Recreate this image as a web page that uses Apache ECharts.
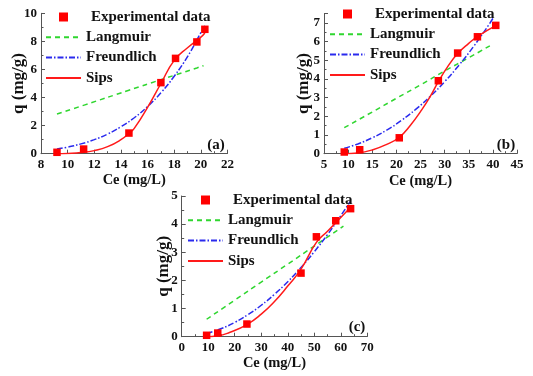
<!DOCTYPE html>
<html><head><meta charset="utf-8">
<script src="https://cdn.jsdelivr.net/npm/echarts@6/dist/echarts.min.js"></script>
<style>html,body{margin:0;padding:0;background:#fff}#c{width:533px;height:376px}</style>
</head><body><div id="c"></div>
<script>
// ---- Data: panel (a)
const aExpX = [9.2, 11.2, 14.6, 17.0, 18.1, 19.7, 20.3];
const aExpY = [0.1, 0.33, 1.47, 5.06, 6.79, 7.96, 8.86];
const aLangX = [9.2, 11.3, 14.6, 17.0, 18.1, 19.7, 20.2];
const aLangY = [2.83, 3.48, 4.52, 5.27, 5.61, 6.11, 6.27];
const aFreX = [9.2, 10, 11, 12, 13, 14, 15, 16, 17, 18, 19, 20, 20.3];
const aFreY = [0.33, 0.47, 0.70, 1.0, 1.40, 1.92, 2.56, 3.36, 4.34, 5.52, 6.92, 8.62, 9.1];
const aSipsX = [9.2, 10, 11, 12, 13, 14, 14.6, 15, 16, 17, 18, 19, 20, 20.3];
const aSipsY = [0, 0.02, 0.08, 0.22, 0.5, 1.0, 1.45, 1.8, 3.3, 5.0, 6.65, 7.55, 8.3, 8.6];
// ---- Data: panel (b)
const bExpX = [9.2, 12.4, 20.6, 28.7, 32.7, 36.8, 40.6];
const bExpY = [0.09, 0.21, 0.85, 3.9, 5.38, 6.25, 6.86];
const bLangX = [9.2, 15, 20, 25, 30, 35, 39.8];
const bLangY = [1.39, 2.23, 2.96, 3.68, 4.42, 5.13, 5.83];
const bFreX = [9.2, 12, 15, 18, 21, 24, 27, 30, 33, 36, 39, 40];
const bFreY = [0.29, 0.52, 0.85, 1.26, 1.77, 2.37, 3.06, 3.85, 4.74, 5.73, 6.83, 7.23];
const bSipsX = [9.2, 12, 15, 18, 20.6, 23, 25, 27, 28.7, 30.5, 32.7, 35, 37, 40.6];
const bSipsY = [0, 0.04, 0.2, 0.5, 0.88, 1.55, 2.25, 3.05, 3.85, 4.6, 5.35, 5.9, 6.3, 6.85];
// ---- Data: panel (c)
const cExpX = [9.4, 13.6, 24.6, 45.0, 50.8, 58.1, 63.7];
const cExpY = [0.05, 0.13, 0.45, 2.26, 3.55, 4.12, 4.55];
const cLangX = [9.4, 20, 30, 40, 50, 61];
const cLangY = [0.62, 1.30, 1.94, 2.58, 3.22, 3.93];
const cFreX = [9.4, 10, 15, 20, 25, 30, 35, 40, 45, 50, 55, 60, 63.5];
const cFreY = [0.117, 0.132, 0.29, 0.508, 0.783, 1.117, 1.508, 1.954, 2.46, 3.02, 3.63, 4.30, 4.8];
const cSipsX = [9.4, 13.6, 18, 24.6, 30, 35, 40, 45, 50.8, 55, 58.1, 63.7];
const cSipsY = [0, 0.03, 0.15, 0.43, 0.8, 1.25, 1.8, 2.4, 3.35, 3.75, 4.05, 4.6];

const seriesNames = ['Experimental data', 'Langmuir', 'Freundlich', 'Sips'];
const panelLabels = ['(a)', '(b)', '(c)'];
const xName = 'Ce (mg/L)';
const yName = 'q (mg/g)';

const FONT = '"Liberation Serif", "Times New Roman", serif';
const zip = (xs, ys) => xs.map((x, i) => [x, ys[i]]);

const panels = [
  { exp: zip(aExpX, aExpY), lang: zip(aLangX, aLangY), fre: zip(aFreX, aFreY), sips: zip(aSipsX, aSipsY) },
  { exp: zip(bExpX, bExpY), lang: zip(bLangX, bLangY), fre: zip(bFreX, bFreY), sips: zip(bSipsX, bSipsY) },
  { exp: zip(cExpX, cExpY), lang: zip(cLangX, cLangY), fre: zip(cFreX, cFreY), sips: zip(cSipsX, cSipsY) }
];

const grids = [
  { left: 41, top: 13.3, width: 186.5, height: 140.4 },
  { left: 324, top: 13.4, width: 193, height: 140.3 },
  { left: 181.7, top: 196, width: 185.6, height: 140.7 }
];
const xRanges = [ {min: 8, max: 22, interval: 2}, {min: 5, max: 45, interval: 5}, {min: 0, max: 70, interval: 10} ];
const yRanges = [ {min: 0, max: 10, interval: 2}, {min: 0, max: 7.5, interval: 1}, {min: 0, max: 5, interval: 1} ];
const xNameGap = [19.5, 20.5, 19.5];
const yNameGap = [13.5, 11.5, 10];

const axisLine = { lineStyle: { color: '#555', width: 1 } };
const tickLabel = { color: '#111', fontFamily: FONT, fontWeight: 'bold', fontSize: 13, margin: 4 };
const xNameStyle = { color: '#111', fontFamily: FONT, fontWeight: 'bold', fontSize: 14.5 };
const yNameStyle = { color: '#111', fontFamily: FONT, fontWeight: 'bold', fontSize: 17 };

const xAxis = xRanges.map((r, i) => ({
  type: 'value', gridIndex: i, min: r.min, max: r.max, interval: r.interval,
  name: xName, nameLocation: 'middle', nameGap: xNameGap[i], nameTextStyle: xNameStyle, nameMoveOverlap: false,
  axisLine: Object.assign({ onZero: false }, axisLine),
  axisTick: { show: true, inside: true, length: 4, lineStyle: { color: '#555' } },
  minorTick: { show: true, splitNumber: 2, length: 2.5, lineStyle: { color: '#555' } },
  splitLine: { show: false },
  axisLabel: tickLabel
}));
const yAxis = yRanges.map((r, i) => ({
  type: 'value', gridIndex: i, min: r.min, max: r.max, interval: r.interval,
  name: yName, nameLocation: 'middle', nameGap: yNameGap[i], nameTextStyle: yNameStyle, nameMoveOverlap: false,
  axisLine: Object.assign({ show: true, onZero: false }, axisLine),
  axisTick: { show: true, inside: true, length: 4, lineStyle: { color: '#555' } },
  minorTick: { show: true, splitNumber: 2, length: 2.5, lineStyle: { color: '#555' } },
  splitLine: { show: false },
  axisLabel: Object.assign({ showMaxLabel: i !== 1 }, tickLabel)
}));

const series = [];
panels.forEach((p, i) => {
  series.push({ name: seriesNames[1], type: 'line', xAxisIndex: i, yAxisIndex: i, data: p.lang, symbol: 'none', smooth: true,
    lineStyle: { color: '#2fd62f', width: 1.5, type: [5, 4] }, itemStyle: { color: '#2fd62f' }, z: 2 });
  series.push({ name: seriesNames[2], type: 'line', xAxisIndex: i, yAxisIndex: i, data: p.fre, symbol: 'none', smooth: true,
    lineStyle: { color: '#2a2aee', width: 1.5, type: [6, 2, 1.5, 2] }, itemStyle: { color: '#2a2aee' }, z: 3 });
  series.push({ name: seriesNames[3], type: 'line', xAxisIndex: i, yAxisIndex: i, data: p.sips, symbol: 'none', smooth: true,
    lineStyle: { color: '#ff1a1a', width: 1.5 }, itemStyle: { color: '#ff1a1a' }, z: 4 });
  series.push({ name: seriesNames[0], type: 'scatter', xAxisIndex: i, yAxisIndex: i, data: p.exp, symbol: 'rect', symbolSize: 7.5,
    itemStyle: { color: '#ff0000', opacity: 1 }, z: 5 });
});

const legendData = [
  { name: seriesNames[0], icon: 'path://M0,0h10v10h-10z', symbolKeepAspect: true, itemStyle: { opacity: 1, color: '#ff0000' } },
  { name: seriesNames[1], itemStyle: { opacity: 0 } },
  { name: seriesNames[2], itemStyle: { opacity: 0 } },
  { name: seriesNames[3], itemStyle: { opacity: 0 } }
];
const legendPos = [ {left: 40, top: 4.5}, {left: 324, top: 1.5}, {left: 182, top: 187.5} ];
const legend = legendPos.map(pos => ({
  left: pos.left, top: pos.top, orient: 'vertical', itemWidth: 35, itemHeight: 9, itemGap: 5.3,
  selectedMode: false, symbolKeepAspect: true, data: legendData,
  textStyle: { color: '#111', fontFamily: FONT, fontWeight: 'bold', fontSize: 15,
    rich: { e: { padding: [0, 0, 0, 5], color: '#111', fontFamily: FONT, fontWeight: 'bold', fontSize: 15 } } },
  formatter: n => n === seriesNames[0] ? '{e|' + n + '}' : n
}));

const labelPos = [ {x: 216, y: 145}, {x: 506, y: 145}, {x: 357, y: 327} ];
const graphic = labelPos.map((pos, i) => ({
  type: 'text', x: pos.x, y: pos.y,
  style: { text: panelLabels[i], fill: '#111', font: 'bold 15px ' + FONT, textAlign: 'center', textVerticalAlign: 'middle' }
}));

const chart = echarts.init(document.getElementById('c'), null, { renderer: 'canvas' });
chart.setOption({
  animation: false, backgroundColor: '#fff',
  grid: grids, xAxis, yAxis, series, legend, graphic
});
</script></body></html>
